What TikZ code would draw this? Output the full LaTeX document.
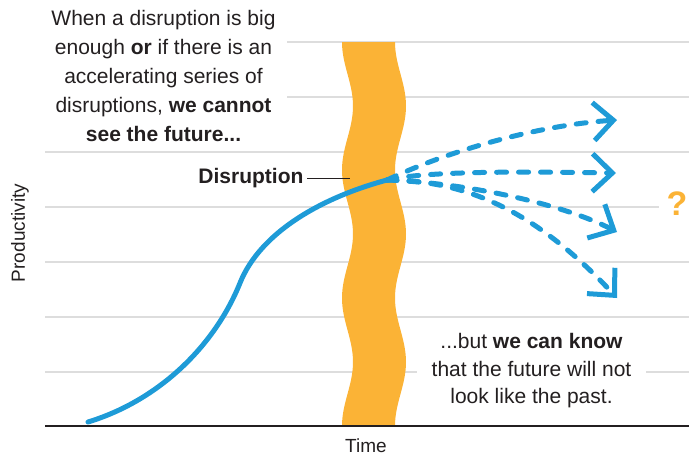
\documentclass[tikz,border=0pt]{standalone}
\usepackage{fontspec}
\setmainfont{Liberation Sans}
\usetikzlibrary{arrows.meta, positioning}
\definecolor{bandorange}{HTML}{FBB336}
\definecolor{trendblue}{HTML}{1E9BD7}
\definecolor{gridgray}{HTML}{DDDDDD}
\definecolor{inkgray}{HTML}{231F20}
\tikzset{
    gridline/.style={draw=gridgray, line width=2pt},
    axisline/.style={draw=inkgray, line width=2.5pt},
    trend/.style={draw=trendblue, line width=5pt, line cap=round},
    future/.style={draw=trendblue, line width=5pt, line cap=round, dash pattern=on 10pt off 12pt, -{Straight Barb[length=20pt, width=38pt]}},
    note/.style={text=inkgray, font=\fontsize{21}{29}\selectfont, align=center},
    axislabel/.style={text=inkgray, font=\fontsize{19}{22}\selectfont}
}

\begin{document}
\begin{tikzpicture}[x=1pt, y=-1pt]
    \useasboundingbox (0,0) rectangle (694,456);
    % Grid
    \foreach \y/\xa/\xb in {42/287/689, 97/287/689, 152/45/689, 207/45/659, 262/45/689, 317/45/689, 372/45/689}
        \draw [gridline] (\xa,\y) -- (\xb,\y);
    % Disruption band
    \fill [bandorange] plot[domain=42:426, samples=97] ({347.5-5.5*cos(2.8125*(\x-42))}, \x)
        -- plot[domain=426:42, samples=97] ({400.5-5.5*cos(2.8125*(\x-42))}, \x) -- cycle;
    \draw [axisline] (45,426) -- (689,426);
    % Nodes
    \coordinate (origin) at (88,422);
    \coordinate (split) at (387,180);
    \coordinate (up) at (617,120);
    \coordinate (flat) at (616,173);
    \coordinate (dip) at (617,232);
    \coordinate (fall) at (617,298);
    \coordinate (band) at (350,178);
    \node (question) [text=bandorange, font=\bfseries\fontsize{34}{34}\selectfont] at (677,204) {?};
    \node (disruption) [note, font=\bfseries\fontsize{21}{29}\selectfont, anchor=east] at (307,178) {Disruption};
    \node (cannot) [note] at (163.5,76) {When a disruption is big\\enough \textbf{or} if there is an\\accelerating series of\\disruptions, \textbf{we cannot}\\\textbf{see the future...}};
    \node (know) [note, fill=white, inner xsep=15pt, font=\fontsize{21}{27.5}\selectfont] at (531.5,371) {...but \textbf{we can know}\\that the future will not\\look like the past.};
    \node (productivity) [axislabel, rotate=90] at (20,233) {Productivity};
    \node (time) [axislabel, inner sep=0pt] at (366,446) {Time};
    % Arrows
    \draw [trend] (origin) .. controls (160,400) and (215,345) .. (240,283) .. controls (260,233) and (320,198) .. (split);
    \draw [future] (split) .. controls (450,150) and (540,125) .. (up);
    \draw [future] (split) .. controls (430,170) and (540,172) .. (flat);
    \draw [future] (split) .. controls (470,183) and (565,205) .. (dip);
    \draw [future] (split) .. controls (470,180) and (540,215) .. (fall);
    \draw [inkgray, line width=1pt] (disruption) -- (band);
\end{tikzpicture}
\end{document}
